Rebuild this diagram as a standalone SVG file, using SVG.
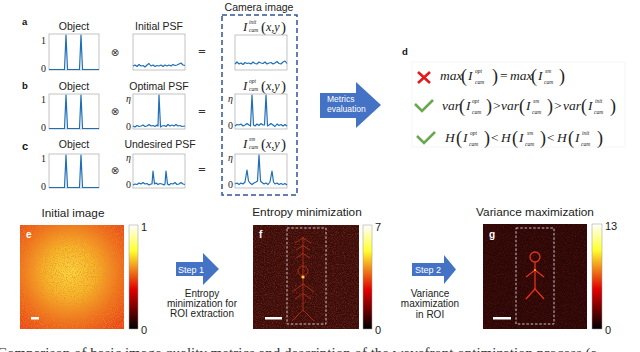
<svg xmlns="http://www.w3.org/2000/svg" width="640" height="352" viewBox="0 0 640 352">
<defs>
<style>
.sans{font-family:"Liberation Sans","Open Sans",Arial,sans-serif;fill:#222}
.lbl{font-size:10.5px;text-anchor:middle}
.tit{font-size:11.8px;text-anchor:middle}
.stp{font-size:10px;text-anchor:middle}
.cb{font-size:11px}
.pl{font-family:"Liberation Sans",Arial,sans-serif;font-weight:bold;font-size:9.5px;fill:#111}
.plw{font-family:"Liberation Sans",Arial,sans-serif;font-weight:bold;font-size:10px;fill:#fff}
.ax{font-family:"Liberation Serif","Times New Roman",serif;font-size:10px;text-anchor:end;fill:#222}
.axi{font-family:"Liberation Serif","Times New Roman",serif;font-style:italic;font-size:10px;text-anchor:end;fill:#222}
.mi{font-family:"Liberation Serif","Times New Roman",serif;font-style:italic;font-size:13.5px;fill:#222}
.mc{font-family:"Liberation Serif","Times New Roman",serif;font-style:italic;font-size:12px;fill:#222}
.sc{font-family:"Liberation Serif","Times New Roman",serif;font-style:italic;font-size:5.5px;fill:#222}
.pr{font-family:"Liberation Serif","Times New Roman",serif;font-size:18px;fill:#222}
.prc{font-family:"Liberation Serif","Times New Roman",serif;font-size:15px;fill:#222}
.op{font-family:"Liberation Serif","Times New Roman",serif;font-size:13.5px;fill:#222}
.sym{font-family:"DejaVu Sans",sans-serif;font-size:10px;text-anchor:middle;fill:#333}
.box{fill:#fff;stroke:#b5b5b5;stroke-width:0.8}
.sig{fill:none;stroke:#1f6fb5;stroke-width:1.2;stroke-linejoin:round}
.arr{fill:#4472c4}
.wt{font-family:"Liberation Sans",Arial,sans-serif;fill:#fff}
.roi{fill:none;stroke:#d8d8d8;stroke-width:0.9;stroke-dasharray:2.5,1.8}
.cbar{fill:url(#hot);stroke:#999;stroke-width:0.5}
</style>
<linearGradient id="hot" x1="0" y1="0" x2="0" y2="1">
<stop offset="0" stop-color="#ffffff"/>
<stop offset="0.25" stop-color="#ffff30"/>
<stop offset="0.62" stop-color="#e00000"/>
<stop offset="1" stop-color="#000000"/>
</linearGradient>
<radialGradient id="rg" cx="0.48" cy="0.45" r="0.68">
<stop offset="0" stop-color="#f8dc3a"/>
<stop offset="0.35" stop-color="#f4b824"/>
<stop offset="0.7" stop-color="#ee7418"/>
<stop offset="1" stop-color="#e84a12"/>
</radialGradient>
<filter id="grain" x="0" y="0" width="1" height="1">
<feTurbulence type="fractalNoise" baseFrequency="0.9" numOctaves="2" seed="3"/>
<feColorMatrix type="matrix" values="0 0 0 0 0.88  0 0 0 0 0.22  0 0 0 0 0.05  2.0 0 0 0 -0.85"/>
</filter>
<filter id="grainD" x="0" y="0" width="1" height="1">
<feTurbulence type="fractalNoise" baseFrequency="0.9" numOctaves="2" seed="7"/>
<feColorMatrix type="matrix" values="0 0 0 0 0.42  0 0 0 0 0.08  0 0 0 0 0.05  1.0 0 0 0 -0.42"/>
</filter>
<filter id="glow" x="-1" y="-1" width="3" height="3">
<feGaussianBlur stdDeviation="0.6"/>
</filter>
<filter id="soft" x="-0.2" y="-0.1" width="1.4" height="1.2">
<feGaussianBlur stdDeviation="0.35"/>
</filter>
</defs>

<rect x="0" y="0" width="640" height="352" fill="#fff"/>

<!-- Row a -->
<g id="row-a">
<text class="pl" x="22" y="25">a</text>
<text class="sans lbl" x="74" y="30">Object</text>
<rect class="box" x="49" y="34" width="50" height="36"/>
<path class="sig" d="M49,69.5 L64.5,69.5 L66,35 L67.5,69.5 L79.5,69.5 L81,35 L82.5,69.5 L99,69.5"/>
<text class="ax" x="46" y="44">1</text>
<text class="ax" x="46" y="72">0</text>
<text class="sym" x="115" y="55.5">⊗</text>
<text class="sans lbl" x="159" y="30">Initial PSF</text>
<rect class="box" x="133" y="34" width="52" height="36"/>
<path class="sig" d="M133,66 L135,65 L137,66.5 L139,64.5 L141,66 L143,65.5 L145,67 L147,65 L149,63.5 L151,66 L153,65 L155,66.5 L157,65.5 L159,66 L161,65 L163,66.5 L165,65 L167,66 L169,65 L171,66 L173,64.5 L175,65.5 L177,65 L179,64 L181,63 L183,65 L185,65.5"/>
<text class="sym" x="202" y="55">=</text>
</g>

<!-- Row b -->
<g id="row-b">
<text class="pl" x="22" y="89">b</text>
<text class="sans lbl" x="74" y="90">Object</text>
<rect class="box" x="49" y="94" width="50" height="35"/>
<path class="sig" d="M49,128.5 L64.5,128.5 L66,95 L67.5,128.5 L79.5,128.5 L81,95 L82.5,128.5 L99,128.5"/>
<text class="ax" x="46" y="103">1</text>
<text class="ax" x="46" y="131">0</text>
<text class="sym" x="115" y="114.5">⊗</text>
<text class="sans lbl" x="159" y="90">Optimal PSF</text>
<rect class="box" x="133" y="94" width="52" height="35"/>
<path class="sig" d="M133,126 L135,127 L137,125.5 L139,126.5 L141,126 L143,125 L145,126.5 L147,126 L149,124.5 L151,126 L153,125.5 L155,126.5 L157,125 L158,126 L159,95 L160.5,127 L162,126 L164,125.5 L166,126.5 L168,124.5 L170,126 L172,125 L174,126 L176,124.5 L178,126 L180,125.5 L182,126.5 L185,126"/>
<text class="axi" x="131" y="102">η</text>
<text class="ax" x="131" y="130">0</text>
<text class="sym" x="202" y="114.5">=</text>
</g>

<!-- Row c -->
<g id="row-c">
<text class="pl" x="22" y="150" style="font-size:11px">c</text>
<text class="sans lbl" x="74" y="148">Object</text>
<rect class="box" x="49" y="154" width="50" height="34"/>
<path class="sig" d="M49,187.5 L64.5,187.5 L66,155 L67.5,187.5 L79.5,187.5 L81,155 L82.5,187.5 L99,187.5"/>
<text class="ax" x="46" y="162">1</text>
<text class="ax" x="46" y="190">0</text>
<text class="sym" x="115" y="173.5">⊗</text>
<text class="sans lbl" x="160" y="148">Undesired PSF</text>
<rect class="box" x="133" y="154" width="52" height="34"/>
<path class="sig" d="M133,185 L135,184 L137,184.5 L139,183 L141,184 L143,182.5 L145,184 L147,183.5 L149,185 L151,184 L152,184 L153,171 L154.5,184 L156,183 L158,184.5 L160,183.5 L162,184 L164,185 L165,184 L166,171 L167.5,184 L169,185 L171,183.5 L173,184 L175,182.5 L177,184.5 L179,184 L181,182.5 L183,184 L185,184.5"/>
<text class="axi" x="131" y="161">η</text>
<text class="ax" x="131" y="188">0</text>
<text class="sym" x="202" y="173">=</text>
</g>

<!-- Camera image -->
<g id="camera">
<text class="sans lbl" x="259" y="11">Camera image</text>
<rect x="222" y="15" width="75" height="180" fill="none" stroke="#2f5597" stroke-width="1.5" stroke-dasharray="5,3"/>
<text class="mc" x="243" y="31" style="font-size:13px">I</text>
<text class="sc" x="249" y="24">init</text>
<text class="sc" x="249" y="32">cam</text>
<text class="prc" x="261" y="32">(</text>
<text class="mc" x="266" y="31">x,y</text>
<text class="prc" x="281" y="32">)</text>
<rect class="box" x="235" y="35" width="52" height="35"/>
<path class="sig" d="M235,64 L237,62 L239,64 L241,63 L243,64.5 L245,62.5 L247,63.5 L249,63 L251,64 L253,62 L255,63.5 L257,64 L259,62 L261,63 L263,63.5 L265,62 L267,64 L269,63 L271,62.5 L273,64 L275,63 L277,61.5 L279,63.5 L281,64 L283,62 L285,61 L287,63.5"/>

<text class="mc" x="243" y="90" style="font-size:13px">I</text>
<text class="sc" x="249" y="83">opt</text>
<text class="sc" x="249" y="91">cam</text>
<text class="prc" x="261" y="91">(</text>
<text class="mc" x="266" y="90">x,y</text>
<text class="prc" x="281" y="91">)</text>
<rect class="box" x="235" y="94" width="52" height="35"/>
<path class="sig" d="M235,126 L237,124.5 L239,125 L241,124 L243,126 L245,125 L247,123.5 L249,125 L250.5,126 L252,95 L253.5,125 L255,126 L257,124 L259,125.5 L261,123.5 L263,125 L264.5,125 L266,95 L267.5,126 L269,125 L271,123.5 L273,125 L275,126.5 L277,124 L279,125.5 L281,124.5 L283,126 L285,124.5 L287,126"/>
<text class="axi" x="233" y="102">η</text>
<text class="ax" x="233" y="129">0</text>

<text class="mc" x="243" y="148" style="font-size:13px">I</text>
<text class="sc" x="249" y="141">sm</text>
<text class="sc" x="249" y="149">cam</text>
<text class="prc" x="261" y="149">(</text>
<text class="mc" x="266" y="148">x,y</text>
<text class="prc" x="281" y="149">)</text>
<rect class="box" x="235" y="154" width="52" height="34"/>
<path class="sig" d="M235,184 L237,183 L239,184.5 L241,183 L243,184 L245,182 L247,170 L248.5,181 L250,183 L252,184.5 L254,183 L256,182 L257.5,181 L259,155 L260.5,181 L262,182.5 L264,184 L266,183 L268,184.5 L270,182 L272,171 L273.5,182 L275,184 L277,183 L279,184.5 L281,183.5 L283,184.5 L285,183.5 L287,185"/>
<text class="axi" x="233" y="161">η</text>
<text class="ax" x="233" y="188">0</text>
</g>

<!-- Connectors (block arrows) -->
<g id="connectors">
<polygon class="arr" points="320,93 356,93 356,82 381,105 356,128 356,118 320,118"/>
<text class="wt" x="327" y="102" style="font-size:8.5px">Metrics</text>
<text class="wt" x="327" y="112" style="font-size:8.5px">evaluation</text>
<polygon class="arr" points="176,262 203,262 203,253 219,269 203,285 203,276 176,276"/>
<text class="wt" x="191" y="272.5" style="font-size:9px;text-anchor:middle">Step 1</text>
<polygon class="arr" points="412,263 444,263 444,255 456,269.5 444,284 444,276 412,276"/>
<text class="wt" x="428" y="272.5" style="font-size:9px;text-anchor:middle">Step 2</text>
</g>

<!-- Panel d -->
<g id="panel-d">
<text class="pl" x="402" y="55">d</text>
<rect x="412" y="62" width="213" height="85" fill="none" stroke="#f3f3f3" stroke-width="0.8"/>
<path d="M418,72 L430,83 M430,72 L418,83" stroke="#e41a1a" stroke-width="2.6" fill="none"/>
<path d="M415,104 L422,111 L433,100" stroke="#6aa84f" stroke-width="2.6" fill="none"/>
<path d="M417,136 L424,143 L435,132" stroke="#6aa84f" stroke-width="2.6" fill="none"/>

<text class="mi" x="440" y="80">max</text>
<text class="pr" x="461" y="82">(</text>
<text class="mi" x="468" y="80">I</text>
<text class="sc" x="475" y="73">opt</text>
<text class="sc" x="475" y="84">cam</text>
<text class="pr" x="492" y="82">)</text>
<text class="op" x="500" y="80">=</text>
<text class="mi" x="510" y="80">max</text>
<text class="pr" x="531" y="82">(</text>
<text class="mi" x="538" y="80">I</text>
<text class="sc" x="545" y="73">sm</text>
<text class="sc" x="544" y="84">cam</text>
<text class="pr" x="559" y="82">)</text>

<text class="mi" x="442" y="110">var</text>
<text class="pr" x="459" y="112">(</text>
<text class="mi" x="466" y="110">I</text>
<text class="sc" x="472" y="103">opt</text>
<text class="sc" x="472" y="114">cam</text>
<text class="pr" x="486" y="112">)</text>
<text class="op" x="493" y="110">&gt;</text>
<text class="mi" x="501" y="110">var</text>
<text class="pr" x="519" y="112">(</text>
<text class="mi" x="526" y="110">I</text>
<text class="sc" x="533" y="103">sm</text>
<text class="sc" x="532" y="114">cam</text>
<text class="pr" x="547" y="112">)</text>
<text class="op" x="554" y="110">&gt;</text>
<text class="mi" x="563" y="110">var</text>
<text class="pr" x="581" y="112">(</text>
<text class="mi" x="588" y="110">I</text>
<text class="sc" x="595" y="103">init</text>
<text class="sc" x="594" y="114">cam</text>
<text class="pr" x="610" y="112">)</text>

<text class="mi" x="445" y="142">H</text>
<text class="pr" x="456" y="144">(</text>
<text class="mi" x="463" y="142">I</text>
<text class="sc" x="470" y="135">opt</text>
<text class="sc" x="469" y="146">cam</text>
<text class="pr" x="484" y="144">)</text>
<text class="op" x="491" y="142">&lt;</text>
<text class="mi" x="501" y="142">H</text>
<text class="pr" x="512" y="144">(</text>
<text class="mi" x="519" y="142">I</text>
<text class="sc" x="527" y="135">sm</text>
<text class="sc" x="525" y="146">cam</text>
<text class="pr" x="540" y="144">)</text>
<text class="op" x="547" y="142">&lt;</text>
<text class="mi" x="557" y="142">H</text>
<text class="pr" x="568" y="144">(</text>
<text class="mi" x="575" y="142">I</text>
<text class="sc" x="582" y="135">init</text>
<text class="sc" x="581" y="146">cam</text>
<text class="pr" x="597" y="144">)</text>
</g>

<!-- Panel e -->
<g id="panel-e">
<text class="sans tit" x="73" y="217">Initial image</text>
<rect x="20" y="225" width="104" height="104" fill="url(#rg)"/>
<rect x="20" y="225" width="104" height="104" filter="url(#grain)"/>
<text class="plw" x="26" y="238">e</text>
<rect x="31" y="317" width="8" height="2.5" fill="#fff"/>
<rect class="cbar" x="129" y="225" width="9" height="104"/>
<text class="sans cb" x="141" y="231">1</text>
<text class="sans cb" x="141" y="334">0</text>
<text class="sans stp" x="202" y="296.5">Entropy</text>
<text class="sans stp" x="202" y="306.5">minimization for</text>
<text class="sans stp" x="202" y="316.5">ROI extraction</text>
</g>

<!-- Panel f -->
<g id="panel-f">
<text class="sans tit" x="307" y="216">Entropy minimization</text>
<rect x="253" y="225" width="106" height="104" fill="#3a0b07"/>
<rect x="253" y="225" width="106" height="104" filter="url(#grainD)"/>
<g fill="none" stroke="#b83018" stroke-width="1" stroke-opacity="0.85" filter="url(#soft)">
<path d="M303,237 V310"/>
<path d="M295,243 L303,238 L311,243 M296,250 L303,245.5 L310,250 M296,258 L303,253.5 L310,258"/>
<circle cx="303" cy="271" r="5"/>
<path d="M292,292 L303,284 L314,292 M295,299 L303,293.5 L311,299"/>
<path d="M292,321 L303,310 L314,321"/>
</g>
<circle cx="303" cy="277" r="1.6" fill="#ffcf40" filter="url(#glow)"/>
<rect class="roi" x="287" y="228" width="39" height="96"/>
<text class="plw" x="259" y="238">f</text>
<rect x="265" y="317" width="17" height="2.5" fill="#fff"/>
<rect class="cbar" x="363" y="225" width="9" height="104"/>
<text class="sans cb" x="375" y="231">7</text>
<text class="sans cb" x="375" y="334">0</text>
<text class="sans stp" x="430" y="296.5">Variance</text>
<text class="sans stp" x="430" y="307">maximization</text>
<text class="sans stp" x="430" y="318">in ROI</text>
</g>

<!-- Panel g -->
<g id="panel-g">
<text class="sans tit" x="535" y="216">Variance maximization</text>
<rect x="483" y="224" width="104" height="105" fill="#2c0605"/>
<rect x="483" y="224" width="104" height="105" filter="url(#grainD)" opacity="0.5"/>
<g fill="none" stroke="#e8321a" stroke-width="1.3">
<circle cx="535" cy="257" r="5"/>
<path d="M535,262 V289"/>
<path d="M526,277 L535,270 L544,277"/>
<path d="M526,299 L535,289 L544,299"/>
</g>
<circle cx="535" cy="270" r="1" fill="#ffb030"/>
<rect class="roi" x="516" y="228" width="38" height="96"/>
<text class="plw" x="489" y="238">g</text>
<rect x="493" y="317" width="18" height="2.5" fill="#fff"/>
<rect class="cbar" x="592" y="224" width="10" height="105"/>
<text class="sans cb" x="605" y="230">13</text>
<text class="sans cb" x="605" y="334">0</text>
</g>

<text x="-3" y="357.5" style="font-family:'Liberation Serif','Times New Roman',serif;font-size:15px;fill:#333">Comparison of basic image quality metrics and description of the wavefront optimization process (a</text>
</svg>
